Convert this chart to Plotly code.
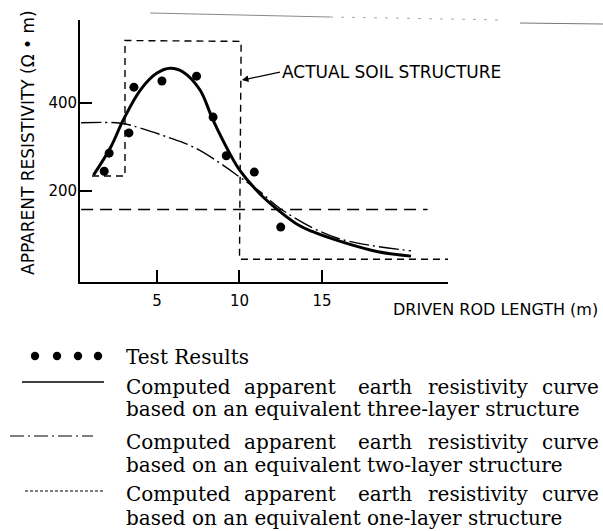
import plotly.graph_objects as go

# ---------------- data ----------------
test_x = [1.8, 2.1, 3.3, 3.6, 5.3, 7.4, 8.4, 9.2, 10.9, 12.5]
test_y = [245, 286, 332, 436, 450, 461, 368, 280, 243, 118]

three_x = [1.15, 2.2, 2.95, 4.0, 5.0, 5.8, 6.6, 7.6, 8.4, 9.4, 10.0, 11.2, 12.4, 13.6, 14.4, 16.4, 18.4, 20.4]
three_y = [236, 300, 361, 430, 468, 479, 470, 430, 361, 286, 248, 195, 155, 122, 108, 82, 62, 52]

two_x = [0.4, 2.8, 4.0, 5.6, 7.2, 8.8, 10.0, 11.2, 12.4, 14.4, 16.0, 18.0, 20.4]
two_y = [355, 354, 343, 323, 300, 264, 232, 200, 162, 117, 92, 76, 64]

one_x = [0.4, 21.4]
one_y = [158, 158]

soil_x = [1.06, 3.06, 3.06, 10.1, 10.0, 22.7]
soil_y = [234, 234, 542, 540, 45, 45]

x_ticks = [5, 10, 15]
y_ticks = [200, 400]

legend_rows = [
    ["Test Results"],
    ["Computed", "apparent", "earth", "resistivity", "curve"],
    ["based on an equivalent three-layer structure"],
    ["Computed", "apparent", "earth", "resistivity", "curve"],
    ["based on an equivalent two-layer structure"],
    ["Computed", "apparent", "earth", "resistivity", "curve"],
    ["based on an equivalent one-layer structure"],
]

# ---------------- layout geometry ----------------
W, H = 603, 531
L, R, T, B = 80, 155, 20, 249
PW, PH = W - L - R, H - T - B


def px(x):
    return (x - L) / PW


def py(y):
    return (H - B - y) / PH


SANS = "DejaVu Sans"
SERIF = "DejaVu Serif"

fig = go.Figure()

fig.add_trace(go.Scatter(x=soil_x, y=soil_y, mode="lines", name="Actual soil structure",
                         line=dict(color="black", width=1.4, dash="7px,5px"), cliponaxis=False))
fig.add_trace(go.Scatter(x=one_x, y=one_y, mode="lines", name="One-layer",
                         line=dict(color="black", width=1.5, dash="12px,7px")))
fig.add_trace(go.Scatter(x=two_x, y=two_y, mode="lines", name="Two-layer",
                         line=dict(color="black", width=1.4, dash="20px,4px,2px,4px", shape="spline")))
fig.add_trace(go.Scatter(x=three_x, y=three_y, mode="lines", name="Three-layer",
                         line=dict(color="black", width=3, shape="spline")))
fig.add_trace(go.Scatter(x=test_x, y=test_y, mode="markers", name="Test Results",
                         marker=dict(color="black", size=9)))

annotations = []
shapes = []

# axis titles
annotations.append(dict(text="DRIVEN ROD LENGTH (m)", xref="paper", yref="paper",
                        x=px(600), y=py(309), xanchor="right", yanchor="middle",
                        showarrow=False, font=dict(family=SANS, size=16, color="black")))
annotations.append(dict(text="APPARENT RESISTIVITY (Ω • m)", xref="paper", yref="paper",
                        x=px(28), y=py(143), xanchor="center", yanchor="middle", textangle=-90,
                        showarrow=False, font=dict(family=SANS, size=17, color="black")))

# soil-structure label with arrow
annotations.append(dict(text="ACTUAL SOIL STRUCTURE", x=10.15, y=452, xref="x", yref="y",
                        ax=38, ay=-8, xanchor="left", yanchor="middle", showarrow=True,
                        arrowhead=2, arrowsize=1, arrowwidth=1.3, arrowcolor="black",
                        font=dict(family=SANS, size=17, color="black")))

# scan artefact line at the top
shapes.append(dict(type="line", xref="paper", yref="paper", x0=px(150), y0=py(13), x1=px(330), y1=py(17),
                   line=dict(color="#888", width=1)))
shapes.append(dict(type="line", xref="paper", yref="paper", x0=px(330), y0=py(17), x1=px(505), y1=py(20),
                   line=dict(color="#aaa", width=1, dash="3px,8px")))
shapes.append(dict(type="line", xref="paper", yref="paper", x0=px(520), y0=py(23), x1=px(603), y1=py(24),
                   line=dict(color="#777", width=1)))

# custom legend
row_y = [357, 387, 409, 442, 465, 494, 518]
word_x = [125, 243, 357, 427]
for words, yy in zip(legend_rows, row_y):
    f = dict(family=SERIF, size=20, color="black")
    if len(words) == 1:
        annotations.append(dict(text=words[0], xref="paper", yref="paper", x=px(124), y=py(yy),
                                xanchor="left", yanchor="middle", showarrow=False, font=f))
    else:
        for w, xx in zip(words[:-1], word_x):
            annotations.append(dict(text=w, xref="paper", yref="paper", x=px(xx - 1), y=py(yy),
                                    xanchor="left", yanchor="middle", showarrow=False, font=f))
        annotations.append(dict(text=words[-1], xref="paper", yref="paper", x=px(601), y=py(yy),
                                xanchor="right", yanchor="middle", showarrow=False, font=f))

for cx in [35, 57, 78, 98]:
    shapes.append(dict(type="circle", xref="paper", yref="paper",
                       x0=px(cx - 4.2), x1=px(cx + 4.2), y0=py(356 + 4.2), y1=py(356 - 4.2),
                       fillcolor="black", line=dict(color="black", width=0)))
shapes.append(dict(type="line", xref="paper", yref="paper", x0=px(22), x1=px(104), y0=py(382), y1=py(382),
                   line=dict(color="black", width=1.4)))
shapes.append(dict(type="line", xref="paper", yref="paper", x0=px(10), x1=px(93), y0=py(436), y1=py(436),
                   line=dict(color="black", width=1.2, dash="14px,4px,2px,4px")))
shapes.append(dict(type="line", xref="paper", yref="paper", x0=px(25), x1=px(105), y0=py(491), y1=py(491),
                   line=dict(color="black", width=1.1, dash="3px,2px")))

fig.update_layout(
    width=W, height=H, autosize=False,
    margin=dict(l=L, r=R, t=T, b=B, pad=0),
    paper_bgcolor="white", plot_bgcolor="white",
    showlegend=False,
    annotations=annotations, shapes=shapes,
    xaxis=dict(range=[0.333, 22.64], tickvals=x_ticks, ticktext=[str(v) for v in x_ticks],
               ticks="inside", ticklen=12, tickwidth=1.5, tickcolor="black",
               showline=True, linecolor="black", linewidth=1.8, mirror=False,
               showgrid=False, zeroline=False, ticklabelstandoff=4,
               tickfont=dict(family=SANS, size=15, color="black")),
    yaxis=dict(range=[-6.8, 588.6], tickvals=y_ticks, ticktext=[str(v) for v in y_ticks],
               ticks="inside", ticklen=12, tickwidth=1.5, tickcolor="black",
               showline=True, linecolor="black", linewidth=1.8, mirror=False,
               showgrid=False, zeroline=False, ticklabelstandoff=-2,
               tickfont=dict(family=SANS, size=15, color="black")),
)

fig.write_html("out.html", config={"displayModeBar": False},
               post_script="document.body.style.margin='0';document.body.style.overflow='hidden';")
